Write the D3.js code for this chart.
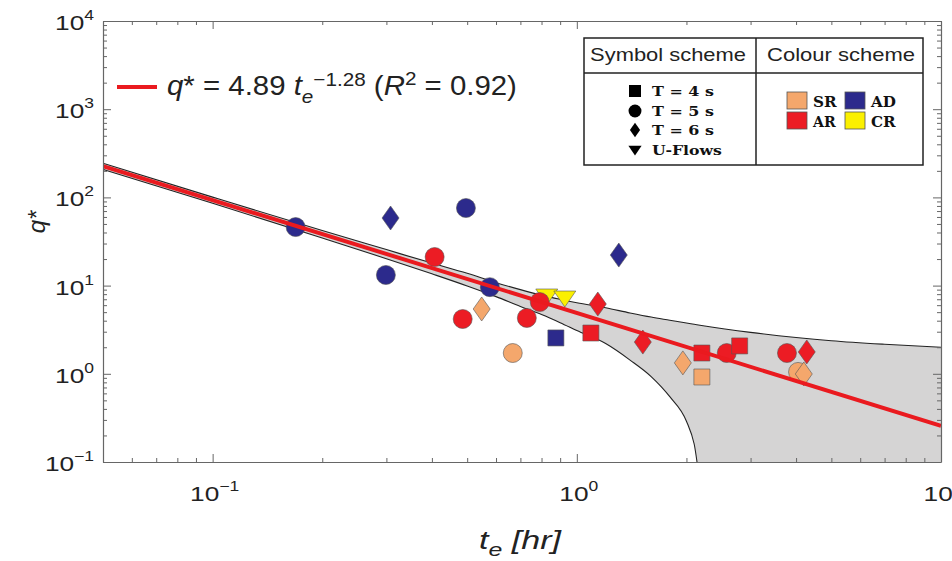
<!DOCTYPE html>
<html><head><meta charset="utf-8">
<script src="https://cdn.jsdelivr.net/npm/d3@7"></script>
<style>body{margin:0;background:#fff}svg{display:block}</style>
</head><body><svg id="c" width="952" height="561"></svg>
<script>
// ---------- data ----------
const xDomain = [0.05, 10];
const yDomain = [0.1, 10000];
const xMajorTicks = [0.1, 1, 10];
const xTickExp = ["\u22121", "0", "1"];
const yMajorTicks = [0.1, 1, 10, 100, 1000, 10000];
const yTickExp = ["\u22121", "0", "1", "2", "3", "4"];

// fitted power law q* = 4.89 te^-1.28 (end points)
const fitT = [0.05, 10];
const fitQ = [226.3, 0.257];

// confidence band
const bandT     = [0.05, 0.1, 0.2, 0.3, 0.4, 0.5, 0.6, 0.7, 0.8, 0.9, 1.0, 1.2, 1.4, 1.6, 1.8, 2.0, 2.1, 2.2, 3, 4, 5, 7, 10];
const bandUpper = [244, 100.7, 42.1, 25.6, 18.0, 13.8, 10.8, 9.0, 7.8, 7.0, 6.4, 5.6, 4.9, 4.4, 4.05, 3.76, 3.64, 3.53, 2.95, 2.58, 2.37, 2.16, 2.0];
const bandLower = [208, 85.7, 34.7, 20.2, 13.6, 9.9, 7.5, 5.8, 4.7, 3.8, 3.1, 2.2, 1.43, 0.93, 0.55, 0.29, 0.16, 0.05, 0.01, 0.01, 0.01, 0.01, 0.01];

// CR (yellow)
const crT = [0.827, 0.927];
const crQ = [7.62, 7.23];
const crShape = ["tri", "tri"];
// SR (orange)
const srT = [0.548, 0.667, 1.955, 2.205, 4.05, 4.2];
const srQ = [5.43, 1.72, 1.33, 0.92, 1.05, 0.995];
const srShape = ["diamond", "circle", "diamond", "square", "circle", "diamond"];
// AD (navy)
const adT = [0.169, 0.308, 0.299, 0.496, 0.577, 0.876, 1.304];
const adQ = [46.1, 58.4, 13.2, 75.8, 9.6, 2.55, 22.2];
const adShape = ["circle", "diamond", "circle", "circle", "circle", "square", "diamond"];
// AR (red)
const arT = [0.407, 0.486, 0.729, 0.791, 1.142, 1.093, 1.518, 2.205, 2.58, 2.80, 3.776, 4.28];
const arQ = [21.1, 4.18, 4.3, 6.51, 6.18, 2.90, 2.29, 1.72, 1.72, 2.07, 1.72, 1.77];
const arShape = ["circle", "circle", "circle", "circle", "diamond", "square", "diamond", "square", "circle", "square", "circle", "diamond"];

const symbolLabels = ["T = 4 s", "T = 5 s", "T = 6 s", "U-Flows"];
const symbolShapes = ["square", "circle", "diamond", "tri"];
const colourLabels = ["SR", "AD", "AR", "CR"];

const COL = {SR: "#f4a76c", AD: "#2c2a8c", AR: "#ec1c24", CR: "#fbf000"};

// ---------- layout ----------
const X0 = 103, X1 = 941, Y0 = 462, Y1 = 21;
const svg = d3.select("#c");
const x = d3.scaleLog().domain(xDomain).range([X0, X1]);
const y = d3.scaleLog().domain(yDomain).range([Y0, Y1]);

svg.append("defs").append("clipPath").attr("id", "clip")
  .append("rect").attr("x", X0).attr("y", Y1).attr("width", X1 - X0).attr("height", Y0 - Y1);

const plot = svg.append("g").attr("clip-path", "url(#clip)");

// band
const band = bandT.map((t, i) => ({t, u: bandUpper[i], l: bandLower[i]}));
plot.append("path").datum(band)
  .attr("d", d3.area().x(d => x(d.t)).y0(d => y(d.l)).y1(d => y(d.u)).curve(d3.curveMonotoneX))
  .attr("fill", "#d5d4d4");
["u", "l"].forEach(k => {
  plot.append("path").datum(band)
    .attr("d", d3.line().x(d => x(d.t)).y(d => y(d[k])).curve(d3.curveMonotoneX))
    .attr("fill", "none").attr("stroke", "#222").attr("stroke-width", 1.1);
});

// shapes
function shapePath(s, k) {
  k = k || 1;
  switch (s) {
    case "circle": { const r = 9.5 * k; return `M${-r},0a${r},${r} 0 1,0 ${2*r},0a${r},${r} 0 1,0 ${-2*r},0Z`; }
    case "square": { const h = 8 * k; return `M${-h},${-h}H${h}V${h}H${-h}Z`; }
    case "diamond": { const w = 8.5 * k, h = 12 * k; return `M0,${-h}L${w},0L0,${h}L${-w},0Z`; }
    case "tri": { const w = 11 * k; return `M${-w},${-7*k}H${w}L0,${9*k}Z`; }
  }
}

const groups = [
  {t: crT, q: crQ, s: crShape, c: COL.CR},
  {t: srT, q: srQ, s: srShape, c: COL.SR},
  {t: adT, q: adQ, s: adShape, c: COL.AD},
  {t: arT, q: arQ, s: arShape, c: COL.AR}
];
const pts = plot.append("g");
groups.forEach(g => {
  pts.append("g").selectAll("path").data(g.t.map((t, i) => ({t, q: g.q[i], s: g.s[i]})))
    .join("path")
    .attr("d", d => shapePath(d.s))
    .attr("transform", d => `translate(${x(d.t)},${y(d.q)})`)
    .attr("fill", g.c).attr("stroke", "#555").attr("stroke-width", 0.6);
});

// fit line
plot.append("path").datum(fitT.map((t, i) => ({t, q: fitQ[i]})))
  .attr("d", d3.line().x(d => x(d.t)).y(d => y(d.q)))
  .attr("fill", "none").attr("stroke", "#ea1a1f").attr("stroke-width", 4);

// ---------- axes ----------
const isMajor = v => Math.abs(Math.log10(v) - Math.round(Math.log10(v))) < 1e-6;
const xt = x.ticks(), yt = y.ticks();
function styleAxis(g, attr, sign) {
  g.select(".domain").attr("stroke", "#666").attr("stroke-width", 1.2);
  g.selectAll(".tick line").attr("stroke", "#666").attr(attr, d => sign * (isMajor(d) ? 8 : 4));
}
svg.append("g").attr("transform", `translate(0,${Y0})`)
  .call(d3.axisBottom(x).tickValues(xt).tickSize(-4).tickSizeOuter(0).tickFormat(""))
  .call(g => styleAxis(g, "y2", -1));
svg.append("g").attr("transform", `translate(0,${Y1})`)
  .call(d3.axisTop(x).tickValues(xt).tickSize(-4).tickSizeOuter(0).tickFormat(""))
  .call(g => styleAxis(g, "y2", 1));
svg.append("g").attr("transform", `translate(${X0},0)`)
  .call(d3.axisLeft(y).tickValues(yt).tickSize(-4).tickSizeOuter(0).tickFormat(""))
  .call(g => styleAxis(g, "x2", 1));
svg.append("g").attr("transform", `translate(${X1},0)`)
  .call(d3.axisRight(y).tickValues(yt).tickSize(-4).tickSizeOuter(0).tickFormat(""))
  .call(g => styleAxis(g, "x2", -1));

const SANS = "'Liberation Sans', Arial, sans-serif";
const SERIF = "'DejaVu Serif', serif";
const SX = 1.25;

function powLabel(px, py, exp, anchor) {
  const t = svg.append("text").attr("font-family", SANS).attr("font-size", 21).attr("fill", "#222")
    .attr("text-anchor", anchor).attr("transform", `translate(${px},${py}) scale(${SX},1)`);
  t.append("tspan").text("10");
  t.append("tspan").attr("font-size", 14).attr("dy", -10).text(exp);
}
yMajorTicks.forEach((v, i) => powLabel(94, y(v) + 9, yTickExp[i], "end"));
xMajorTicks.forEach((v, i) => powLabel(x(v) + 2, 501, xTickExp[i], "middle"));

function fit(sel, px, py, w, anchor) {
  sel.attr("text-anchor", anchor || "start");
  const bw = sel.node().getBBox().width;
  sel.attr("transform", `translate(${px},${py}) scale(${w / bw},1)`);
  return sel;
}

// axis titles
const xt1 = svg.append("text").attr("font-family", SANS).attr("font-style", "italic").attr("font-size", 26).attr("fill", "#222");
xt1.append("tspan").text("t");
xt1.append("tspan").attr("font-size", 19).attr("dy", 7).text("e");
xt1.append("tspan").attr("dy", -7).text(" [hr]");
fit(xt1, 479, 549, 83);

svg.append("text").attr("font-family", SANS).attr("font-style", "italic").attr("font-size", 24).attr("fill", "#222")
  .attr("text-anchor", "middle").attr("transform", "translate(45,222) rotate(-90)").text("q*");

// equation legend
svg.append("line").attr("x1", 117).attr("x2", 157).attr("y1", 87).attr("y2", 87)
  .attr("stroke", "#ea1a1f").attr("stroke-width", 4);
const eq = svg.append("text").attr("font-family", SANS).attr("font-size", 27).attr("fill", "#222");
eq.append("tspan").attr("font-style", "italic").text("q");
eq.append("tspan").text("* = 4.89 ");
eq.append("tspan").attr("font-style", "italic").text("t");
eq.append("tspan").attr("font-style", "italic").attr("font-size", 19).attr("dy", 8).text("e");
eq.append("tspan").attr("font-size", 19).attr("dy", -17).text("\u22121.28");
eq.append("tspan").attr("dy", 9).text(" (");
eq.append("tspan").attr("font-style", "italic").text("R");
eq.append("tspan").attr("font-size", 19).attr("dy", -10).text("2");
eq.append("tspan").attr("dy", 10).text(" = 0.92)");
fit(eq, 167, 95, 350);

// ---------- scheme legend ----------
const lg = svg.append("g");
lg.append("rect").attr("x", 584).attr("y", 38).attr("width", 339).attr("height", 127)
  .attr("fill", "#fff").attr("stroke", "#222").attr("stroke-width", 1.5);
lg.append("line").attr("x1", 584).attr("x2", 923).attr("y1", 73).attr("y2", 73).attr("stroke", "#222").attr("stroke-width", 1.5);
lg.append("line").attr("x1", 756).attr("x2", 756).attr("y1", 38).attr("y2", 165).attr("stroke", "#222").attr("stroke-width", 1.5);
fit(lg.append("text").attr("font-family", SANS).attr("font-size", 18).attr("fill", "#222").text("Symbol scheme"), 668, 61, 156, "middle");
fit(lg.append("text").attr("font-family", SANS).attr("font-size", 18).attr("fill", "#222").text("Colour scheme"), 841, 61, 148, "middle");

const symRowY = [91, 111, 130, 150];
const symW = [62, 62, 62, 70];
symbolLabels.forEach((lab, i) => {
  lg.append("path").attr("d", shapePath(symbolShapes[i], symbolShapes[i] === "circle" ? 0.68 : (symbolShapes[i] === "square" ? 0.75 : 0.6)))
    .attr("transform", `translate(635,${symRowY[i]})`).attr("fill", "#000");
  fit(lg.append("text").attr("font-family", SERIF).attr("font-weight", "bold").attr("font-size", 13).attr("fill", "#111").text(lab),
    652, symRowY[i] + 5, symW[i]);
});

const swX = [787, 845, 787, 845];
const swY = [92, 92, 112, 112];
const swC = [COL.SR, COL.AD, COL.AR, COL.CR];
const swW = [24, 26, 24, 25];
colourLabels.forEach((lab, i) => {
  lg.append("rect").attr("x", swX[i]).attr("y", swY[i]).attr("width", 20).attr("height", 17)
    .attr("fill", swC[i]).attr("stroke", "#555").attr("stroke-width", 0.8);
  fit(lg.append("text").attr("font-family", SERIF).attr("font-weight", "bold").attr("font-size", 14).attr("fill", "#111").text(lab),
    swX[i] + 26, swY[i] + 15, swW[i]);
});
</script>
</body></html>
